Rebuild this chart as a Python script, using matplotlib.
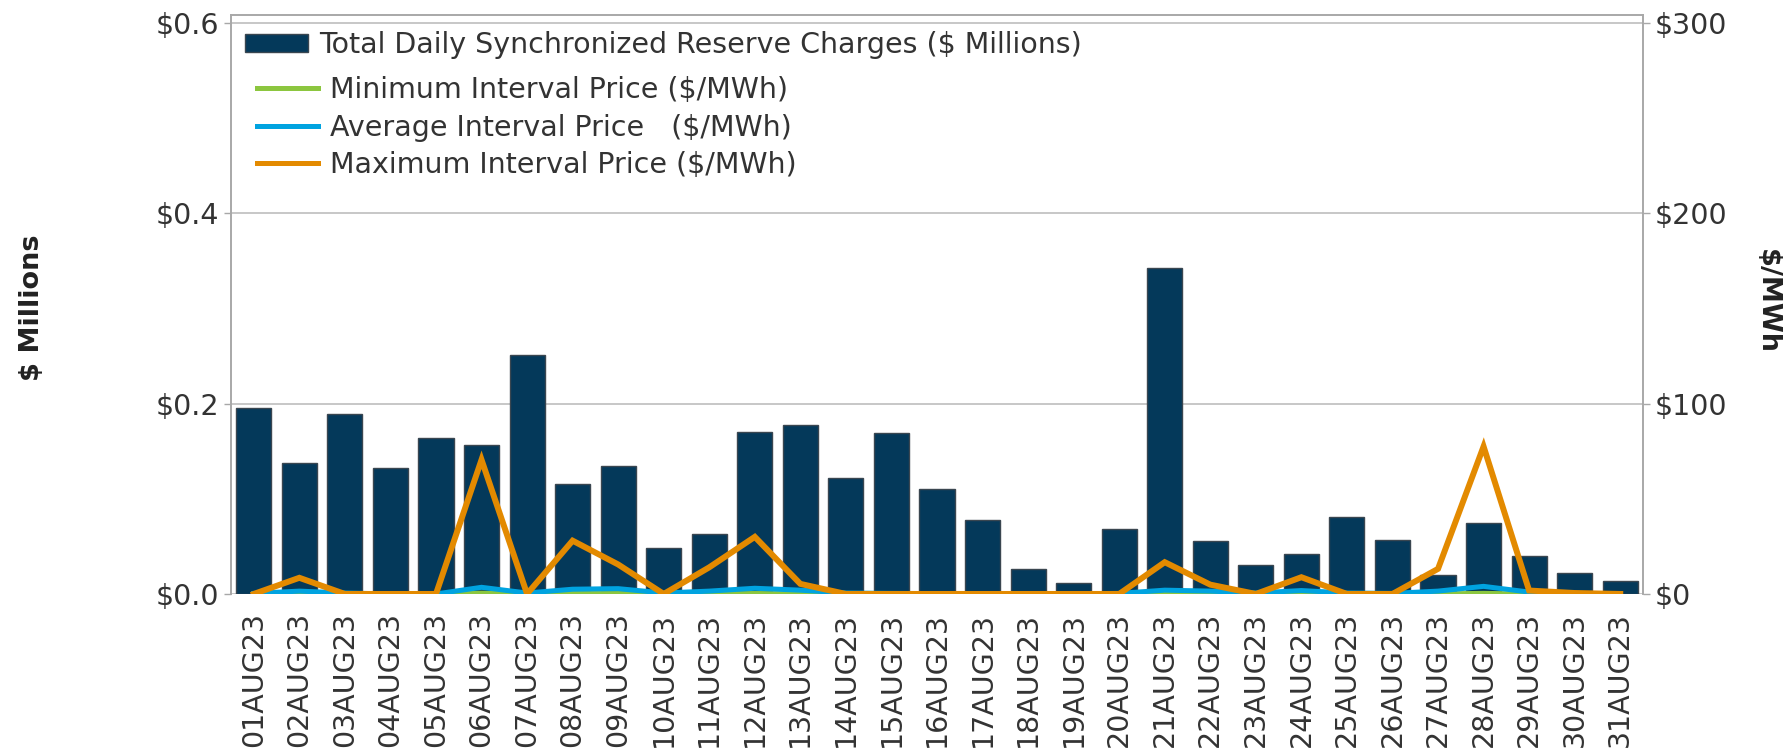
import matplotlib
matplotlib.use("Agg")
import matplotlib.pyplot as plt
from matplotlib.lines import Line2D
from matplotlib.patches import Patch

plt.rcParams["font.family"] = ["DejaVu Sans"]

days = [f"{d:02d}AUG23" for d in range(1, 32)]

# Total daily synchronized reserve charges ($ millions)
charges = [0.195, 0.138, 0.189, 0.132, 0.164, 0.157, 0.251, 0.116, 0.134, 0.048,
           0.063, 0.170, 0.178, 0.122, 0.169, 0.110, 0.078, 0.026, 0.011, 0.068,
           0.343, 0.056, 0.030, 0.042, 0.081, 0.057, 0.020, 0.075, 0.040, 0.022,
           0.014]

# Interval prices ($/MWh)
min_price = [0.0, 0.3, 0.0, 0.0, 0.0, 0.5, 0.0, 0.3, 0.3, 0.0,
             0.2, 0.3, 0.2, 0.0, 0.0, 0.0, 0.0, 0.0, 0.0, 0.0,
             0.3, 0.2, 0.0, 0.2, 0.0, 0.0, 0.1, 0.4, 0.0, 0.0,
             0.0]
avg_price = [0.3, 1.5, 0.5, 0.0, 0.0, 3.5, 0.5, 2.5, 2.8, 0.5,
             1.5, 3.0, 2.0, 0.5, 0.3, 0.2, 0.2, 0.1, 0.1, 0.3,
             2.0, 1.5, 0.5, 1.8, 0.5, 0.3, 1.5, 4.0, 1.0, 0.3,
             0.1]
max_price = [0.0, 8.5, 0.0, 0.0, 0.0, 70.5, 0.0, 28.0, 15.5, 0.0,
             14.0, 30.0, 5.3, 0.0, 0.0, 0.0, 0.0, 0.0, 0.0, 0.0,
             16.7, 4.9, 0.0, 8.8, 0.0, 0.0, 13.2, 77.5, 1.8, 0.5,
             0.0]

left_ticks = [0.0, 0.2, 0.4, 0.6]
left_labels = ["$0.0", "$0.2", "$0.4", "$0.6"]
right_ticks = [0, 100, 200, 300]
right_labels = ["$0", "$100", "$200", "$300"]

BAR = "#04395a"
GREEN = "#8cc63f"
BLUE = "#00a3e0"
ORANGE = "#e38a00"
GRID = "#bdbdbd"
SPINE = "#a8a8a8"
TXT = "#333333"
FS = 20.5

fig = plt.figure(figsize=(17.88, 7.53), dpi=100)
ax = fig.add_axes([0.1292, 0.2112, 0.7897, 0.7689])
ax2 = ax.twinx()

x = range(len(days))
ax.bar(x, charges, width=0.77, color=BAR, edgecolor="#3a4650", linewidth=1.0, zorder=2)
ax.set_xlim(-0.5, len(days) - 0.5)
ax.set_ylim(0, 0.6084)
ax.set_yticks(left_ticks)
ax.set_yticklabels(left_labels)
ax.yaxis.grid(True, color=GRID, linewidth=1.2, zorder=0)
ax.set_axisbelow(True)
ax.set_xticks(list(x))
ax.set_xticklabels(days, rotation=90)

ax2.set_ylim(0, 304.2)
ax2.set_yticks(right_ticks)
ax2.set_yticklabels(right_labels)
ax2.plot(x, min_price, color=GREEN, linewidth=3.4, solid_joinstyle="miter", zorder=3)
ax2.plot(x, avg_price, color=BLUE, linewidth=3.6, solid_joinstyle="miter", zorder=4)
ax2.plot(x, max_price, color=ORANGE, linewidth=4.3, solid_joinstyle="miter", zorder=5)

for a in (ax, ax2):
    for s in a.spines.values():
        s.set_color(SPINE)
        s.set_linewidth(1.2)
    a.tick_params(axis="both", labelsize=FS, colors=TXT, length=5, width=1, color=SPINE)
ax.tick_params(axis="x", length=0, pad=13)
ax.spines["bottom"].set_visible(False)
ax2.spines["bottom"].set_visible(False)

fig.text(0.018, 0.591, "$ Millions", rotation=90, ha="center", va="center",
         fontsize=19.5, fontweight="bold", color="#222222")
fig.text(0.988, 0.60, "$/MWh", rotation=270, ha="center", va="center",
         fontsize=19.5, fontweight="bold", color="#222222")

bar_handle = [Patch(facecolor=BAR, edgecolor="#3a4650", linewidth=1.0)]
leg1 = ax2.legend(bar_handle, ["Total Daily Synchronized Reserve Charges ($ Millions)"],
                  loc="upper left", bbox_to_anchor=(0.0099, 0.972), frameon=False,
                  fontsize=FS, handlelength=2.2, handleheight=0.56, handletextpad=0.42,
                  borderaxespad=0.0, borderpad=0.0, labelcolor=TXT)
ax2.add_artist(leg1)
line_handles = [Line2D([], [], color=GREEN, linewidth=3.6),
                Line2D([], [], color=BLUE, linewidth=3.6),
                Line2D([], [], color=ORANGE, linewidth=3.6)]
ax2.legend(line_handles,
           ["Minimum Interval Price ($/MWh)",
            "Average Interval Price   ($/MWh)",
            "Maximum Interval Price ($/MWh)"],
           loc="upper left", bbox_to_anchor=(0.0184, 0.894), frameon=False,
           fontsize=FS, handlelength=2.15, handletextpad=0.42, labelspacing=0.33,
           borderaxespad=0.0, borderpad=0.0, labelcolor=TXT)

fig.savefig("out.png", dpi=100)
